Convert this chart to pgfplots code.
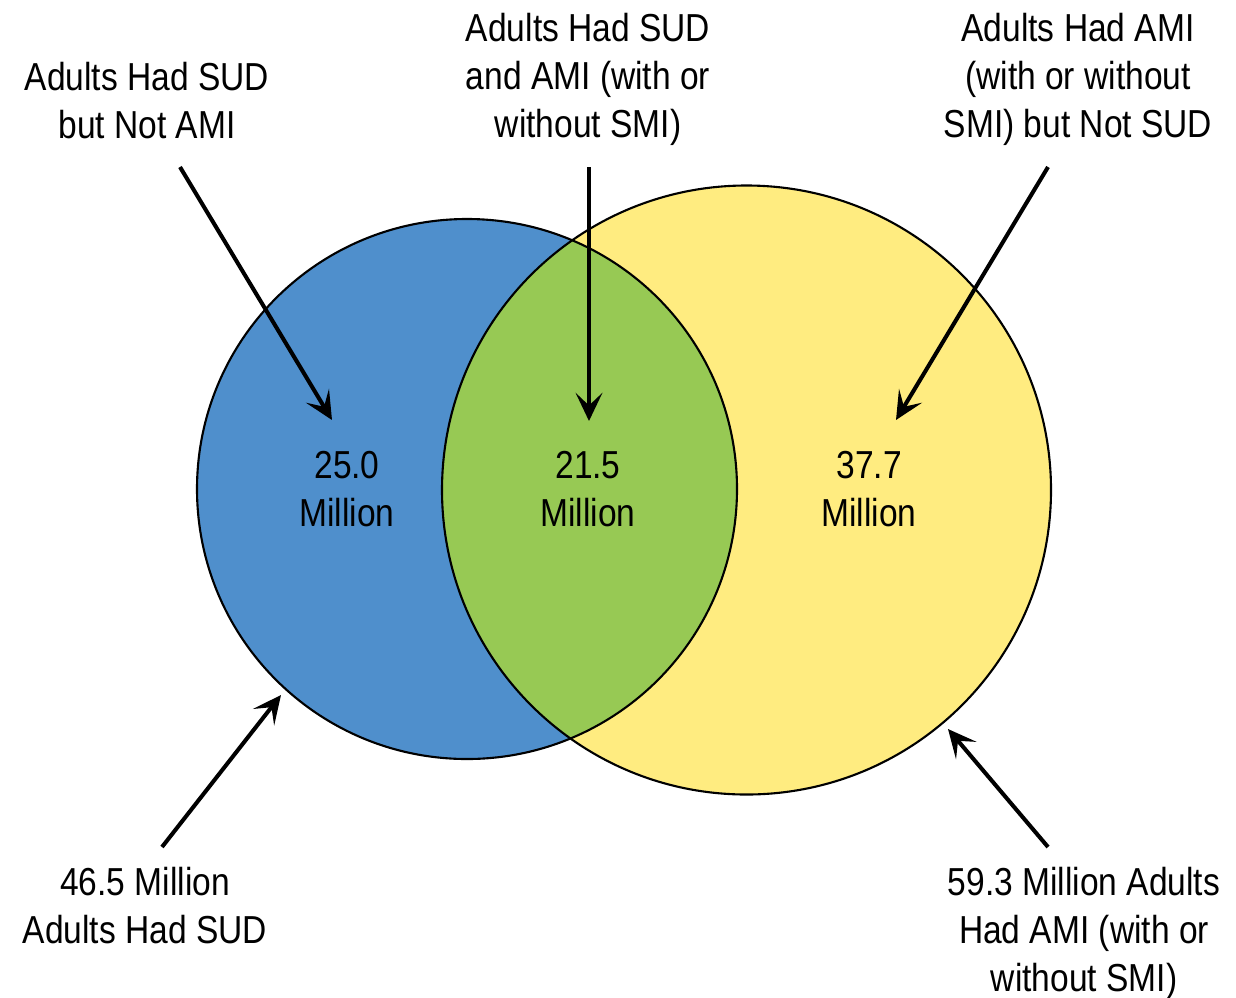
\documentclass[border=0pt]{standalone}
\usepackage{fontspec}
\setmainfont[FakeStretch=0.86]{Liberation Sans}
\usepackage{pgfplots}
\pgfplotsset{compat=1.18}
\usetikzlibrary{arrows.meta}

\definecolor{sudblue}{RGB}{79,143,204}
\definecolor{bothgreen}{RGB}{151,201,84}
\definecolor{amiyellow}{RGB}{255,236,128}

% circle centres and radii (drawing units); radii follow sqrt of the totals
\def\bx{467}\def\by{508}\def\br{270}
\def\yx{746.5}\def\yy{507}\def\yr{304.5}

\begin{document}
\begin{tikzpicture}[
  lbl/.style={align=center, font=\fontsize{11.1}{13.66}\selectfont, inner sep=0pt},
  arr/.style={line width=1.15pt, -{Stealth[length=8pt, width=7.6pt, inset=3.6pt]}}
]
\begin{axis}[
  scale only axis, width=12.36cm, height=9.97cm,
  xmin=0, xmax=1236, ymin=0, ymax=997,
  hide axis, clip=false,
]
% SUD-only circle and AMI circle
\fill[sudblue] (axis cs:\bx,\by) circle [radius=\br];
\fill[amiyellow] (axis cs:\yx,\yy) circle [radius=\yr];
% overlap
\begin{scope}
  \clip (axis cs:\bx,\by) circle [radius=\br];
  \fill[bothgreen] (axis cs:\yx,\yy) circle [radius=\yr];
\end{scope}
\draw[line width=0.6pt] (axis cs:\bx,\by) circle [radius=\br];
\draw[line width=0.6pt] (axis cs:\yx,\yy) circle [radius=\yr];

% region values
\node[lbl] at (axis cs:347,507.5) {25.0\\Million};
\node[lbl] at (axis cs:588,507.5) {21.5\\Million};
\node[lbl] at (axis cs:869,507.5) {37.7\\Million};

% top labels
\node[lbl] at (axis cs:147,896) {Adults Had SUD\\but Not AMI};
\node[lbl] at (axis cs:588,918) {Adults Had SUD\\and AMI (with or\\without SMI)};
\node[lbl] at (axis cs:1078,918) {Adults Had AMI\\(with or without\\SMI) but Not SUD};

% bottom labels
\node[lbl] at (axis cs:145,91.5) {46.5 Million\\Adults Had SUD};
\node[lbl] at (axis cs:1084,64) {59.3 Million Adults\\Had AMI (with or\\without SMI)};

% arrows
\draw[arr] (axis cs:180,830) -- (axis cs:332,577);
\draw[arr] (axis cs:589,830) -- (axis cs:589,576);
\draw[arr] (axis cs:1048,830) -- (axis cs:896,577);
\draw[arr] (axis cs:162,150) -- (axis cs:281,302);
\draw[arr] (axis cs:1048,150) -- (axis cs:948,268);
\end{axis}
\pgfresetboundingbox
\path (current axis.south west) rectangle (current axis.north east);
\end{tikzpicture}
\end{document}
